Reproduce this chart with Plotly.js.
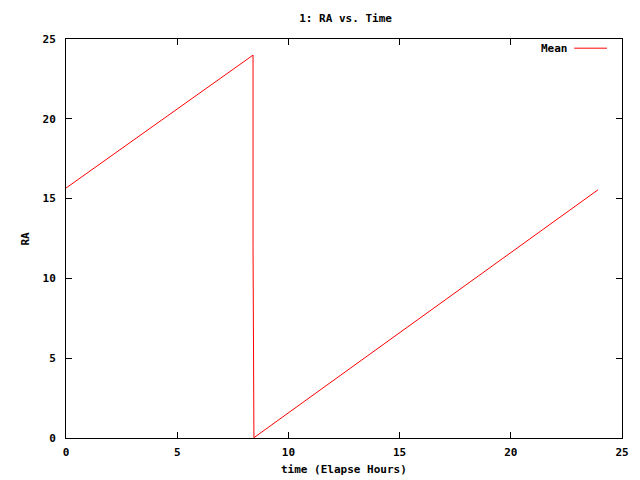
<!DOCTYPE html>
<html>
<head>
<meta charset="utf-8">
<script src="https://cdn.plot.ly/plotly-3.0.1.min.js"></script>
<style>html,body{margin:0;padding:0;background:#fff;}#chart{width:640px;height:480px;}</style>
</head>
<body>
<div id="chart"></div>
<script>
// Data
const timeHours = [0, 8.41, 8.41, 8.45, 23.92];
const raMean = [15.66, 23.99, 12.0, 0.02, 15.55];
const seriesName = "Mean";
const xTicks = [0, 5, 10, 15, 20, 25];
const yTicks = [0, 5, 10, 15, 20, 25];

const fnt = {family: "DejaVu Sans Mono, monospace", size: 11, color: "#000", weight: "bold"};

const trace = {
  x: timeHours, y: raMean, type: "scatter", mode: "lines", name: seriesName,
  line: {color: "#ff0000", width: 1}, showlegend: false
};

const axisCommon = {
  showgrid: false, zeroline: false, showline: true, linecolor: "#000", linewidth: 1,
  mirror: "allticks", ticks: "inside", ticklen: 6, tickcolor: "#000", tickwidth: 1,
  tickfont: fnt, tickmode: "array"
};

const layout = {
  width: 640, height: 480,
  margin: {l: 66, r: 18, t: 39, b: 42},
  paper_bgcolor: "#fff", plot_bgcolor: "#fff",
  font: fnt,
  title: {text: "1: RA vs. Time", font: fnt, x: 0.54, xanchor: "center", y: 0.963, yanchor: "middle"},
  xaxis: Object.assign({}, axisCommon, {range: [0, 25], tickvals: xTicks, ticktext: xTicks.map(String),
    ticklabelstandoff: 4}),
  yaxis: Object.assign({}, axisCommon, {range: [0, 25], tickvals: yTicks, ticktext: yTicks.map(String),
    ticklabelstandoff: 7}),
  showlegend: false,
  annotations: [
    {text: "time (Elapse Hours)", xref: "paper", yref: "paper", x: 0.5, y: -0.080, xanchor: "center", yanchor: "middle", showarrow: false, font: fnt},
    {text: "RA", xref: "paper", yref: "paper", x: -0.0737, y: 0.5, xanchor: "center", yanchor: "middle", textangle: -90, showarrow: false, font: fnt},
    {text: seriesName, xref: "paper", yref: "paper", x: 0.906, y: 0.977, xanchor: "right", yanchor: "middle", showarrow: false, font: fnt}
  ],
  shapes: [
    {type: "line", xref: "paper", yref: "paper", x0: 0.914, x1: 0.973, y0: 0.977, y1: 0.977, line: {color: "#ff0000", width: 1}}
  ]
};

Plotly.newPlot("chart", [trace], layout, {displayModeBar: false, staticPlot: true});
</script>
</body>
</html>
